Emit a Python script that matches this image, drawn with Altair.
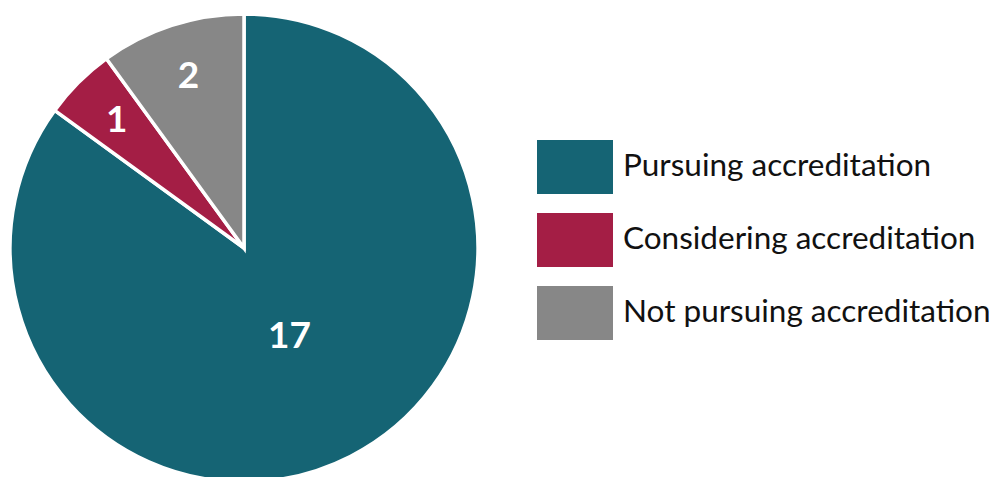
import altair as alt
import pandas as pd

categories = ["Pursuing accreditation", "Considering accreditation", "Not pursuing accreditation"]
counts = [17, 1, 2]
colors = ["#156474", "#A41E45", "#878787"]

df = pd.DataFrame({"category": categories, "count": counts, "idx": list(range(len(categories)))})

base = alt.Chart(df).encode(
    theta=alt.Theta("count:Q", stack=True),
    order=alt.Order("idx:Q"),
)

arcs = base.mark_arc(outerRadius=234, stroke="white", strokeWidth=3.5).encode(
    color=alt.Color(
        "category:N",
        scale=alt.Scale(domain=categories, range=colors),
        legend=alt.Legend(
            orient="none", legendX=537, legendY=110, title=None,
            symbolType="M-1,-0.71L1,-0.71L1,0.71L-1,0.71Z",
            symbolSize=5776, symbolStrokeWidth=0, symbolOpacity=1,
            labelFontSize=31.5, labelFont="Lato", labelColor="#111111",
            labelOffset=10, rowPadding=8, labelLimit=0,
        ),
    )
)

big = base.transform_calculate(
    lbl="datum.count > 5 ? datum.count + '' : ''"
).mark_text(radius=100, color="white", font="Lato", fontWeight="bold", fontSize=37,
            align="center", baseline="middle").encode(
    text="lbl:N", detail="category:N"
)

small = base.transform_calculate(
    lbl="datum.count > 5 ? '' : datum.count + ''"
).mark_text(radius=180, color="white", font="Lato", fontWeight="bold", fontSize=37,
            align="center", baseline="middle").encode(
    text="lbl:N", detail="category:N"
)

chart = alt.layer(arcs, big, small).properties(
    width=488, height=458,
    autosize=alt.AutoSizeParams(type="none"),
    padding={"left": 0, "top": 19, "right": 510, "bottom": 0},
).configure_view(stroke=None).configure(background="white")

chart.save("out.html", embed_options={"renderer": "svg", "actions": False})
